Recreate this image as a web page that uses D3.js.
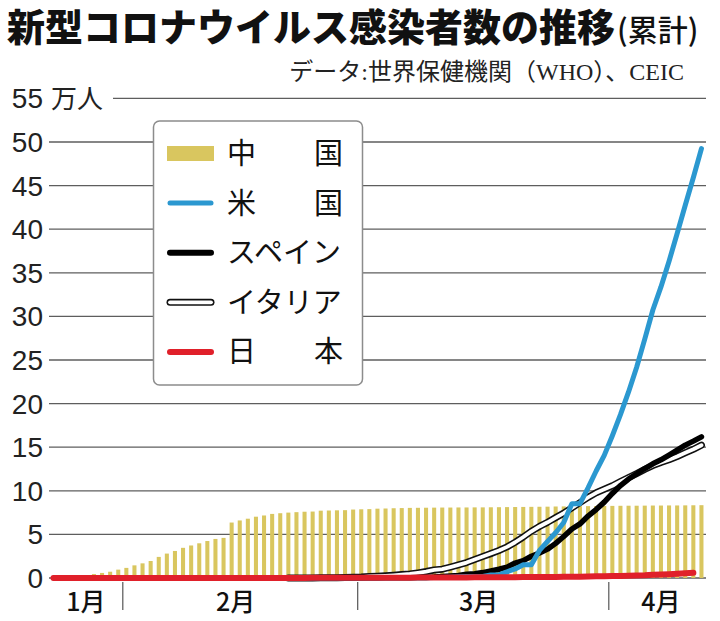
<!DOCTYPE html>
<html>
<head>
<meta charset="utf-8">
<script src="https://cdn.jsdelivr.net/npm/d3@7/dist/d3.min.js"></script>
<style>
  body { margin: 0; background: #fff; }
  text { font-family: "Noto Sans CJK JP", "Noto Sans", sans-serif; }
</style>
</head>
<body>
<div id="chart-area"></div>
<script>
// daily values, 万人, Jan 23 .. Apr 12 2020
var startDate = new Date(2020, 0, 23);
var endDate = new Date(2020, 3, 13);

var china = [
  0.06, 0.08, 0.13, 0.20, 0.27, 0.45, 0.58, 0.72, 0.96,
  1.16, 1.45, 1.68, 1.95, 2.42, 2.80, 3.10, 3.46, 3.73, 3.98,
  4.24, 4.48, 4.60, 6.36, 6.60, 6.80, 7.03, 7.17, 7.35, 7.43,
  7.50, 7.55, 7.60, 7.62, 7.72, 7.74, 7.76, 7.78, 7.85,
  7.88, 7.90, 7.95, 7.97, 8.00, 8.02, 8.04, 8.05, 8.06, 8.07,
  8.08, 8.08, 8.09, 8.09, 8.10, 8.10, 8.11, 8.12, 8.13, 8.14,
  8.15, 8.16, 8.17, 8.18, 8.20, 8.21, 8.22, 8.23, 8.24, 8.25, 8.26,
  8.27, 8.28, 8.29, 8.29, 8.30, 8.31, 8.31, 8.32, 8.32, 8.33, 8.34, 8.35
];

var usa = [
  0, 0, 0, 0, 0, 0, 0, 0, 0,
  0.001, 0.001, 0.001, 0.001, 0.001, 0.001, 0.001, 0.001, 0.001, 0.001,
  0.001, 0.001, 0.001, 0.001, 0.001, 0.001, 0.001, 0.001, 0.001, 0.001,
  0.002, 0.003, 0.003, 0.004, 0.005, 0.005, 0.006, 0.006, 0.006,
  0.006, 0.006, 0.006, 0.01, 0.01, 0.015, 0.02, 0.02, 0.02, 0.05,
  0.07, 0.10, 0.13, 0.17, 0.17, 0.17, 0.35, 0.35, 0.71, 1.04,
  1.52, 1.52, 3.16, 4.20, 5.19, 6.36, 8.52, 8.52, 10.33, 12.27, 14.06,
  16.32, 18.73, 21.34, 24.17, 27.39, 30.73, 33.38, 36.33, 39.50, 42.75, 45.92, 49.24
];

var spain = [
  null, null, null, null, null, null, null, null, null,
  null, null, null, null, null, null, null, null, null, null,
  null, null, null, null, null, null, null, null, null, null,
  null, null, null, null, 0.0002, 0.0002, 0.0012, 0.0025, 0.0032,
  0.0045, 0.0084, 0.012, 0.0165, 0.0222, 0.0259, 0.04, 0.05, 0.0673, 0.1073,
  0.17, 0.23, 0.30, 0.42, 0.50, 0.62, 0.80, 1.00, 1.25, 1.71,
  2.00, 2.49, 2.86, 3.31, 3.97, 4.76, 5.62, 6.20, 7.10, 7.85, 8.70,
  9.70, 10.60, 11.35, 11.95, 12.55, 13.10, 13.55, 14.10, 14.67, 15.24, 15.70, 16.19
];

var italy = [
  null, null, null, null, null, null, null, null, null,
  null, null, null, null, null, null, null, null, null, null,
  null, null, null, null, null, null, null, null, null, null,
  0.0003, 0.0009, 0.0076, 0.0124, 0.0229, 0.0322, 0.04, 0.065, 0.0888,
  0.11, 0.17, 0.20, 0.25, 0.31, 0.39, 0.46, 0.59, 0.74, 0.92,
  1.01, 1.25, 1.51, 1.77, 2.12, 2.47, 2.80, 3.15, 3.57, 4.10,
  4.70, 5.36, 5.91, 6.39, 6.92, 7.44, 8.05, 8.65, 9.25, 9.77, 10.17,
  10.58, 11.06, 11.52, 11.98, 12.46, 12.89, 13.25, 13.56, 13.94, 14.36, 14.76, 15.23
];

var japan = [
  0, 0, 0.0002, 0.0003, 0.0004, 0.0006, 0.0007, 0.0011, 0.0014,
  0.0015, 0.002, 0.002, 0.002, 0.002, 0.0025, 0.0025, 0.0025, 0.0026, 0.0026,
  0.0026, 0.0028, 0.0028, 0.0029, 0.0041, 0.0053, 0.0065, 0.0073, 0.0084, 0.0094,
  0.0105, 0.0121, 0.0132, 0.0144, 0.0157, 0.0164, 0.0186, 0.021, 0.023,
  0.0239, 0.0254, 0.0268, 0.0284, 0.0317, 0.0349, 0.042, 0.0455, 0.0488, 0.0514,
  0.0568, 0.062, 0.0675, 0.0716, 0.078, 0.0814, 0.0829, 0.0873, 0.0889, 0.095,
  0.1007, 0.1046, 0.1089, 0.1128, 0.1193, 0.1291, 0.1387, 0.1499, 0.1693, 0.1866, 0.1953,
  0.2178, 0.2381, 0.2617, 0.2935, 0.3139, 0.3654, 0.3906, 0.43, 0.48, 0.54, 0.60
];

var yTicks = [0, 5, 10, 15, 20, 25, 30, 35, 40, 45, 50, 55];
var monthTicks = [new Date(2020, 1, 1), new Date(2020, 2, 1), new Date(2020, 3, 1)];
var monthLabels = ["1月", "2月", "3月", "4月"];
var monthLabelDates = [new Date(2020, 0, 27, 12), new Date(2020, 1, 15),
                       new Date(2020, 2, 16), new Date(2020, 3, 7, 12)];

var legendNames = ["中　　国", "米　　国", "スペイン", "イタリア", "日　　本"];

var colorChina = "#d9c65f";
var colorUsa = "#2b98d0";
var colorJapan = "#e0202a";

var days = d3.timeDay.range(startDate, endDate);

var W = 720, H = 621;
var svg = d3.select("#chart-area").append("svg")
    .attr("width", W)
    .attr("height", H);

// x scale (time), y scale (万人)
var x = d3.scaleTime()
    .domain([startDate, endDate])
    .range([49.4, 705.5]);
var dayW = x(days[1]) - x(days[0]);

var y = d3.scaleLinear()
    .domain([0, 55])
    .range([578, 98.4]);

// title
var title = svg.append("text")
    .attr("x", 7)
    .attr("y", 41)
    .style("font-size", "38px")
    .style("font-weight", 900)
    .attr("fill", "#111")
    .text("新型コロナウイルス感染者数の推移");
title.append("tspan")
    .attr("dx", 2)
    .style("font-size", "30px")
    .style("font-weight", 500)
    .text("(累計)");

svg.append("text")
    .attr("x", 684)
    .attr("y", 80)
    .attr("text-anchor", "end")
    .style("font-family", "'Liberation Serif', 'Noto Sans CJK JP'")
    .style("font-size", "24px")
    .attr("fill", "#222")
    .text("データ:世界保健機関（WHO）、CEIC");

// gridlines
svg.append("g").selectAll("line")
    .data(yTicks)
    .enter().append("line")
    .attr("x1", function (d) { return d === 55 ? 113 : 49; })
    .attr("x2", 706)
    .attr("y1", function (d) { return y(d); })
    .attr("y2", function (d) { return y(d); })
    .attr("stroke", "#5e5e5e")
    .attr("stroke-width", 1.3);

// y labels
svg.append("g").selectAll("text")
    .data(yTicks)
    .enter().append("text")
    .attr("x", 43)
    .attr("y", function (d) { return y(d); })
    .attr("dy", "0.36em")
    .attr("text-anchor", "end")
    .style("font-family", "'Liberation Sans', Arial, sans-serif")
    .style("font-size", "28px")
    .attr("fill", "#222")
    .text(function (d) { return d; });

svg.append("text")
    .attr("x", 51)
    .attr("y", y(55))
    .attr("dy", "0.36em")
    .style("font-size", "26px")
    .attr("fill", "#222")
    .text("万人");

// China bars
svg.append("g").selectAll("rect")
    .data(days)
    .enter().append("rect")
    .attr("x", function (d) { return x(d) + dayW * 0.25; })
    .attr("width", dayW * 0.5)
    .attr("y", function (d, i) { return y(china[i]); })
    .attr("height", function (d, i) { return y(0) - y(china[i]); })
    .attr("fill", colorChina);

// month axis
var xAxis = d3.axisBottom(x)
    .tickValues(monthTicks)
    .tickSize(28)
    .tickFormat("");
var xAxisGroup = svg.append("g")
    .attr("transform", "translate(0,582)")
    .call(xAxis);
xAxisGroup.select(".domain").remove();
xAxisGroup.selectAll("line").attr("stroke", "#555").attr("stroke-width", 1.2);

svg.append("g").selectAll("text")
    .data(monthLabels)
    .enter().append("text")
    .attr("x", function (d, i) { return x(monthLabelDates[i]); })
    .attr("y", 611)
    .attr("text-anchor", "middle")
    .style("font-size", "25px")
    .style("font-weight", 500)
    .attr("fill", "#111")
    .text(function (d) { return d; });

// lines
var line = d3.line()
    .defined(function (d) { return d.v !== null; })
    .x(function (d) { return x(d.t) + dayW / 2; })
    .y(function (d) { return y(d.v); });

function pts(arr) {
    return days.map(function (t, i) { return { t: t, v: arr[i] }; });
}

var lines = svg.append("g")
    .attr("fill", "none")
    .attr("stroke-linecap", "round")
    .attr("stroke-linejoin", "round");

lines.append("path").attr("d", line(pts(italy)))
    .attr("stroke", "#111").attr("stroke-width", 7);
lines.append("path").attr("d", line(pts(italy)))
    .attr("stroke", "#fff").attr("stroke-width", 3.8);
lines.append("path").attr("d", line(pts(spain)))
    .attr("stroke", "#000").attr("stroke-width", 5.5);
lines.append("path").attr("d", line(pts(usa)))
    .attr("stroke", colorUsa).attr("stroke-width", 5);
lines.append("path").attr("d", line(pts(japan)))
    .attr("stroke", colorJapan).attr("stroke-width", 6);

// legend
var legend = svg.append("g");
legend.append("rect")
    .attr("x", 153.5)
    .attr("y", 121)
    .attr("width", 209)
    .attr("height", 264)
    .attr("rx", 6)
    .attr("fill", "#fff")
    .attr("stroke", "#8c8c8c")
    .attr("stroke-width", 1.5);

var rowY = function (i) { return 153.5 + i * 49.6; };

legend.append("rect")
    .attr("x", 167)
    .attr("y", rowY(0) - 7.5)
    .attr("width", 47)
    .attr("height", 15)
    .attr("fill", colorChina);

var swatches = [
    { i: 1, stroke: colorUsa, w: 5 },
    { i: 2, stroke: "#000", w: 6 },
    { i: 3, stroke: "#111", w: 7 },
    { i: 3, stroke: "#fff", w: 3.8 },
    { i: 4, stroke: colorJapan, w: 6 }
];
legend.selectAll("line")
    .data(swatches)
    .enter().append("line")
    .attr("x1", 170)
    .attr("x2", 211)
    .attr("y1", function (d) { return rowY(d.i); })
    .attr("y2", function (d) { return rowY(d.i); })
    .attr("stroke", function (d) { return d.stroke; })
    .attr("stroke-width", function (d) { return d.w; })
    .attr("stroke-linecap", "round");

legend.selectAll("text")
    .data(legendNames)
    .enter().append("text")
    .attr("x", 227)
    .attr("y", function (d, i) { return rowY(i); })
    .attr("dy", "0.36em")
    .style("font-size", "29px")
    .attr("fill", "#111")
    .text(function (d) { return d; });
</script>
</body>
</html>
